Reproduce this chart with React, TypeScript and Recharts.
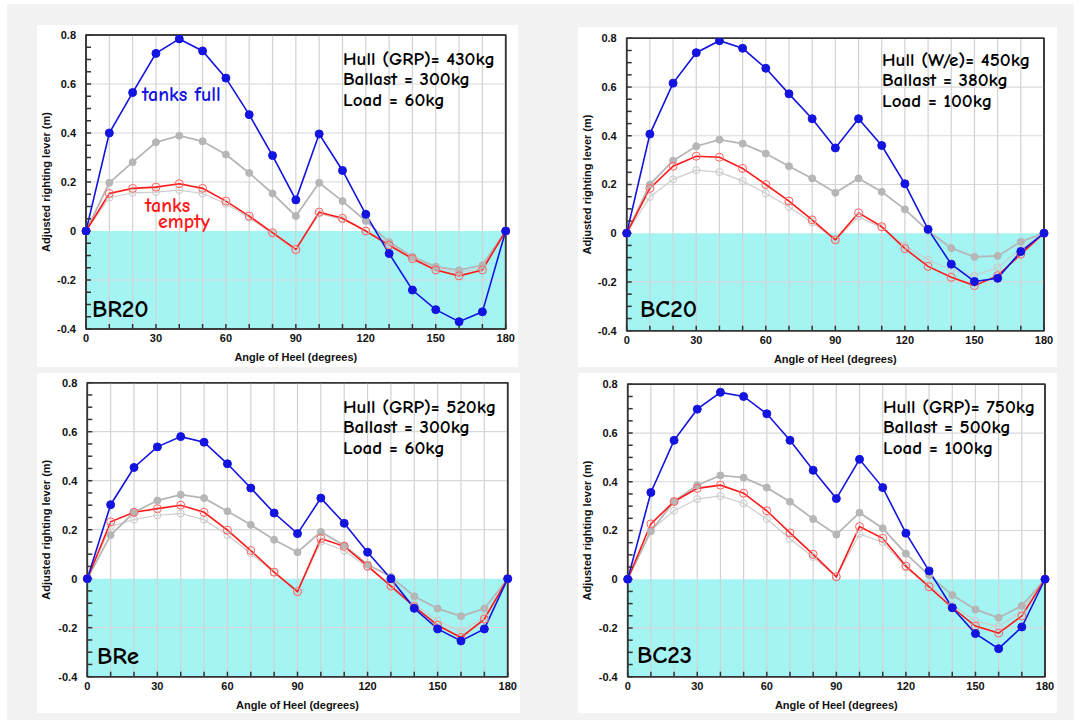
import React from "react";
import { LineChart, Line, XAxis, YAxis, ReferenceArea, ReferenceLine } from "recharts";

// righting lever curves, four boats (m)
const angles = [0, 10, 20, 30, 40, 50, 60, 70, 80, 90, 100, 110, 120, 130, 140, 150, 160, 170, 180];

const br20Full = [0, 0.4, 0.565, 0.725, 0.784, 0.735, 0.624, 0.475, 0.308, 0.127, 0.396, 0.247, 0.068, -0.092, -0.241, -0.321, -0.37, -0.33, 0];
const br20GrayHi = [0, 0.197, 0.281, 0.362, 0.389, 0.366, 0.312, 0.237, 0.153, 0.061, 0.197, 0.122, 0.041, -0.045, -0.105, -0.145, -0.16, -0.14, 0];
const br20Empty = [0, 0.153, 0.174, 0.179, 0.193, 0.174, 0.122, 0.061, -0.007, -0.075, 0.077, 0.052, 0, -0.058, -0.113, -0.159, -0.183, -0.159, 0];
const br20GrayLo = [0, 0.136, 0.156, 0.159, 0.167, 0.153, 0.111, 0.054, -0.011, -0.081, 0.071, 0.047, 0, -0.05, -0.11, -0.15, -0.17, -0.15, 0];

const bc20Full = [0, 0.407, 0.616, 0.741, 0.79, 0.759, 0.677, 0.572, 0.47, 0.35, 0.47, 0.36, 0.203, 0.016, -0.127, -0.198, -0.185, -0.075, 0];
const bc20GrayHi = [0, 0.2, 0.298, 0.357, 0.384, 0.368, 0.327, 0.275, 0.225, 0.166, 0.225, 0.17, 0.098, 0.01, -0.061, -0.097, -0.093, -0.035, 0];
const bc20Empty = [0, 0.184, 0.275, 0.316, 0.312, 0.266, 0.2, 0.132, 0.055, -0.027, 0.084, 0.027, -0.063, -0.136, -0.181, -0.215, -0.174, -0.086, 0];
const bc20GrayLo = [0, 0.149, 0.221, 0.259, 0.251, 0.214, 0.164, 0.108, 0.044, -0.027, 0.068, 0.023, -0.052, -0.109, -0.15, -0.174, -0.14, -0.065, 0];

const breFull = [0, 0.302, 0.454, 0.538, 0.58, 0.557, 0.469, 0.37, 0.268, 0.184, 0.329, 0.226, 0.108, 0, -0.121, -0.205, -0.254, -0.205, 0];
const breGrayHi = [0, 0.178, 0.271, 0.319, 0.343, 0.329, 0.275, 0.22, 0.159, 0.108, 0.191, 0.136, 0.058, 0.008, -0.072, -0.122, -0.153, -0.122, 0];
const breEmpty = [0, 0.232, 0.271, 0.286, 0.3, 0.271, 0.198, 0.115, 0.027, -0.053, 0.164, 0.132, 0.052, -0.03, -0.114, -0.19, -0.24, -0.165, 0];
const breGrayLo = [0, 0.214, 0.241, 0.259, 0.266, 0.241, 0.178, 0.104, 0.024, -0.053, 0.151, 0.115, 0.047, -0.027, -0.104, -0.172, -0.216, -0.155, 0];

const bc23Full = [0, 0.356, 0.57, 0.698, 0.767, 0.75, 0.679, 0.57, 0.447, 0.331, 0.492, 0.376, 0.189, 0.034, -0.117, -0.223, -0.285, -0.196, 0];
const bc23GrayHi = [0, 0.197, 0.319, 0.386, 0.426, 0.417, 0.376, 0.318, 0.247, 0.183, 0.273, 0.209, 0.105, 0.016, -0.065, -0.124, -0.158, -0.109, 0];
const bc23Empty = [0, 0.227, 0.319, 0.373, 0.386, 0.353, 0.281, 0.19, 0.102, 0.01, 0.216, 0.168, 0.054, -0.031, -0.117, -0.192, -0.221, -0.151, 0];
const bc23GrayLo = [0, 0.202, 0.281, 0.329, 0.342, 0.311, 0.247, 0.166, 0.091, 0.01, 0.186, 0.152, 0.048, -0.024, -0.106, -0.171, -0.194, -0.13, 0];

const xTickLabels = [0, 30, 60, 90, 120, 150, 180];
const yTicks = [-0.4, -0.35, -0.3, -0.25, -0.2, -0.15, -0.1, -0.05, 0, 0.05, 0.1, 0.15, 0.2, 0.25, 0.3, 0.35, 0.4, 0.45, 0.5, 0.55, 0.6, 0.65, 0.7, 0.75, 0.8];
const yTickLabels = [-0.4, -0.2, 0, 0.2, 0.4, 0.6, 0.8];
const yGrid = [-0.2, 0.2, 0.4, 0.6];
const xGrid = [10, 20, 30, 40, 50, 60, 70, 80, 90, 100, 110, 120, 130, 140, 150, 160, 170];

const AXIS = "#333";
const CYAN = "#a4f4f4";
const BLUE = "#1414e0";
const RED = "#ff1a1a";
const TICK_FONT = { fontFamily: "'Liberation Sans', Arial, sans-serif", fontSize: 11, fontWeight: 700, fill: "#111" };
const COMIC = "'Comic Sans MS', 'Comic Neue', 'DejaVu Sans', sans-serif";

type Box = { x: number; y: number; w: number; h: number };
type Plot = { l: number; t: number; r: number; b: number };

function Panel({ box, plot, full, grayHi, empty, grayLo }: {
  box: Box; plot: Plot; full: number[]; grayHi: number[]; empty: number[]; grayLo: number[];
}) {
  const rows = angles.map((a, i) => ({ angle: a, full: full[i], grayHi: grayHi[i], empty: empty[i], grayLo: grayLo[i] }));
  const yw = plot.l - box.x;
  const xh = box.y + box.h - plot.b;
  const titleOffset = box.y + box.h - (plot.b + 27) - 5;
  return (
    <div style={{ position: "absolute", left: box.x, top: box.y, width: box.w, height: box.h, background: "#fff" }}>
      <LineChart width={box.w} height={box.h} data={rows}
        margin={{ top: plot.t - box.y - 1, right: box.x + box.w - plot.r - 1, bottom: 0, left: 0 }}>
        <ReferenceArea y1={-0.4} y2={0} fill={CYAN} fillOpacity={1} stroke="none" />
        {xGrid.map((v) => <ReferenceLine key={"x" + v} x={v} stroke="#d2d2d2" strokeWidth={1.2} />)}
        {yGrid.map((v) => <ReferenceLine key={"y" + v} y={v} stroke="#d8d8d8" strokeWidth={1.2} />)}
        <XAxis dataKey="angle" type="number" domain={[0, 180]} ticks={angles} interval={0} height={xh}
          tickFormatter={(v: number) => (xTickLabels.includes(v) ? String(v) : "")}
          tick={TICK_FONT} tickSize={-5} tickMargin={10} stroke={AXIS} strokeWidth={1.5}
          label={{ value: "Angle of Heel (degrees)", position: "insideBottom", offset: titleOffset, style: TICK_FONT }} />
        <XAxis xAxisId="top" orientation="top" dataKey="angle" type="number" domain={[0, 180]} ticks={angles} interval={0} height={1}
          tick={false} tickSize={-5} stroke={AXIS} strokeWidth={1.5} />
        <YAxis type="number" domain={[-0.4, 0.8]} ticks={yTicks} interval={0} width={yw} allowDataOverflow
          tickFormatter={(v: number) => (yTickLabels.some((t) => Math.abs(t - v) < 1e-6) ? String(v) : "")}
          tick={TICK_FONT} tickSize={-5} tickMargin={15} stroke={AXIS} strokeWidth={1.5}
          label={{ value: "Adjusted righting lever (m)", angle: -90, position: "insideLeft", offset: 9, style: { ...TICK_FONT, textAnchor: "middle" } }} />
        <YAxis yAxisId="right" orientation="right" type="number" domain={[-0.4, 0.8]} ticks={yTicks} interval={0} width={1} allowDataOverflow
          tick={false} tickSize={-5} stroke={AXIS} strokeWidth={1.5} />
        <Line dataKey="grayLo" stroke="#cdcdcd" strokeWidth={1.2} isAnimationActive={false}
          dot={{ r: 3.5, fill: "none", stroke: "#c8c8c8", strokeWidth: 1 }} />
        <Line dataKey="grayHi" stroke="#b6b6b6" strokeWidth={1.8} isAnimationActive={false}
          dot={{ r: 3.5, fill: "#b6b6b6", stroke: "#b6b6b6", strokeWidth: 1 }} />
        <Line dataKey="empty" stroke={RED} strokeWidth={1.6} isAnimationActive={false}
          dot={{ r: 4, fill: "none", stroke: "#ff6060", strokeWidth: 1 }} />
        <Line dataKey="full" stroke={BLUE} strokeWidth={1.6} isAnimationActive={false}
          dot={{ r: 4, fill: BLUE, stroke: BLUE, strokeWidth: 1 }} />
        <ReferenceArea x1={0} x2={180} y1={-0.4} y2={0.8} fill="none" stroke={AXIS} strokeWidth={1.6} />
      </LineChart>
    </div>
  );
}

function Note({ x, y, lines, color = "#000", size = 19, lh = 20.5, indent = 0 }: {
  x: number; y: number; lines: string[]; color?: string; size?: number; lh?: number; indent?: number;
}) {
  return (
    <div style={{ position: "absolute", left: x, top: y - lh / 2, fontFamily: COMIC, fontSize: size, lineHeight: `${lh}px`,
      color, fontWeight: 700, whiteSpace: "pre" }}>
      {lines.map((l, i) => <div key={i} style={{ paddingLeft: i * indent }}>{l}</div>)}
    </div>
  );
}

export default function App() {
  return (
    <div style={{ position: "absolute", left: 0, top: 0, width: 1080, height: 724, background: "#fff", overflow: "hidden" }}>
      <div style={{ position: "absolute", left: 7, top: 4, width: 1067, height: 716, background: "#f2f2f2" }} />
      <Panel box={{ x: 37, y: 25, w: 481, h: 342 }} plot={{ l: 86, t: 35, r: 505.7, b: 329 }}
        full={br20Full} grayHi={br20GrayHi} empty={br20Empty} grayLo={br20GrayLo} />
      <Panel box={{ x: 578, y: 27, w: 479, h: 340 }} plot={{ l: 626.7, t: 38.3, r: 1044, b: 330.7 }}
        full={bc20Full} grayHi={bc20GrayHi} empty={bc20Empty} grayLo={bc20GrayLo} />
      <Panel box={{ x: 37, y: 373, w: 483, h: 340 }} plot={{ l: 87.3, t: 382.7, r: 507.7, b: 676.7 }}
        full={breFull} grayHi={breGrayHi} empty={breEmpty} grayLo={breGrayLo} />
      <Panel box={{ x: 578, y: 373, w: 479, h: 340 }} plot={{ l: 627.7, t: 384.3, r: 1045, b: 676.7 }}
        full={bc23Full} grayHi={bc23GrayHi} empty={bc23Empty} grayLo={bc23GrayLo} />

      <Note x={343} y={59} lines={["Hull (GRP)= 430kg", "Ballast = 300kg", "Load = 60kg"]} />
      <Note x={882} y={60} lines={["Hull (W/e)= 450kg", "Ballast = 380kg", "Load = 100kg"]} />
      <Note x={343} y={407} lines={["Hull (GRP)= 520kg", "Ballast = 300kg", "Load = 60kg"]} />
      <Note x={883} y={407} lines={["Hull (GRP)= 750kg", "Ballast = 500kg", "Load = 100kg"]} />

      <Note x={142} y={95} lines={["tanks full"]} color={BLUE} size={20} />
      <Note x={145} y={206} lines={["tanks", "empty"]} color={RED} size={20} lh={16} indent={13} />

      <Note x={92} y={309} lines={["BR20"]} size={25} lh={26} />
      <Note x={640} y={309} lines={["BC20"]} size={25} lh={26} />
      <Note x={97} y={656} lines={["BRe"]} size={25} lh={26} />
      <Note x={637} y={655} lines={["BC23"]} size={25} lh={26} />
    </div>
  );
}
